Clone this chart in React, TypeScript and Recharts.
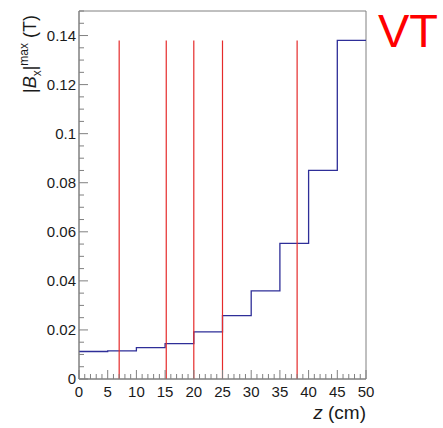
import {
	ComposedChart,
	Line,
	ReferenceArea,
	ReferenceLine,
	XAxis,
	YAxis,
} from 'recharts';

// bin lower edges (cm) and |Bx|max per bin (T)
const binLow = [0, 5, 10, 15, 20, 25, 30, 35, 40, 45];
const bMax = [0.0112, 0.0115, 0.0128, 0.0144, 0.0192, 0.0258, 0.0359, 0.0553, 0.085, 0.138];
const zEnd = 50;

// red marker positions (cm) and their height
const markers = [7, 15.2, 20, 25, 38];
const markerTop = 0.138;

// tick labels
const xMajor = [0, 5, 10, 15, 20, 25, 30, 35, 40, 45, 50];
const yMajor = [0, 0.02, 0.04, 0.06, 0.08, 0.1, 0.12, 0.14];

const xTicks = Array.from({ length: 51 }, (_, i) => i);
const yTicks = Array.from({ length: 31 }, (_, i) => Math.round(i * 5) / 1000);

const histData = [
	...binLow.map((z, i) => ({ z, b: bMax[i] })),
	{ z: zEnd, b: bMax[bMax.length - 1] },
];

const FONT = '"Liberation Sans", Arial, sans-serif';
const AXIS = '#808080';

const XTick = (props: any) => {
	const { x, y, payload } = props;
	const major = xMajor.includes(payload.value);
	return (
		<g>
			<line x1={x} x2={x} y1={y} y2={y - (major ? 9 : 5)} stroke={AXIS} />
			{major && (
				<text x={x} y={y + 18} textAnchor="middle" fontSize={15} fontFamily={FONT} fill="#1a1a1a">
					{payload.value}
				</text>
			)}
		</g>
	);
};

const YTick = (props: any) => {
	const { x, y, payload } = props;
	const major = yMajor.some((v) => Math.abs(v - payload.value) < 1e-6);
	return (
		<g>
			<line x1={x} x2={x + (major ? 9 : 5)} y1={y} y2={y} stroke={AXIS} />
			{major && (
				<text x={x - 3} y={y + 5} textAnchor="end" fontSize={15} fontFamily={FONT} fill="#1a1a1a">
					{String(parseFloat(payload.value.toFixed(2)))}
				</text>
			)}
		</g>
	);
};

export default function App() {
	return (
		<div style={{ position: 'absolute', left: 0, top: 0, width: 443, height: 428, background: '#fff' }}>
			<ComposedChart
				width={443}
				height={428}
				data={histData}
				margin={{ top: 11, right: 77, left: 0, bottom: 0 }}
			>
				<XAxis
					dataKey="z"
					type="number"
					domain={[0, 50]}
					ticks={xTicks}
					interval={0}
					tickSize={0}
					tickMargin={0}
					tick={<XTick />}
					axisLine={{ stroke: AXIS }}
					height={49}
					allowDataOverflow
				/>
				<YAxis
					type="number"
					domain={[0, 0.15]}
					ticks={yTicks}
					interval={0}
					tickSize={0}
					tickMargin={0}
					tick={<YTick />}
					axisLine={{ stroke: AXIS }}
					width={79}
					allowDataOverflow
				/>
				<ReferenceArea x1={0} x2={50} y1={0} y2={0.15} fill="none" stroke={AXIS} fillOpacity={0} />
				<Line
					type="stepAfter"
					dataKey="b"
					stroke="#2e2e98"
					strokeWidth={1.3}
					dot={false}
					isAnimationActive={false}
				/>
				{markers.map((z) => (
					<ReferenceLine
						key={z}
						segment={[
							{ x: z, y: 0 },
							{ x: z, y: markerTop },
						]}
						stroke="#e52b2b"
						strokeWidth={1.2}
					/>
				))}
			</ComposedChart>
			<svg
				width={443}
				height={428}
				style={{ position: 'absolute', left: 0, top: 0, pointerEvents: 'none' }}
				fontFamily={FONT}
			>
				<text transform="translate(36,15) rotate(-90)" textAnchor="end" fontSize={18} fill="#1a1a1a">
					|<tspan fontStyle="italic">B</tspan>
					<tspan dy={5} fontSize={12}>x</tspan>
					<tspan dy={-5}>|</tspan>
					<tspan dy={-8} fontSize={12}>max</tspan>
					<tspan dy={8}> (T)</tspan>
				</text>
				<text x={366} y={419} textAnchor="end" fontSize={19} fill="#1a1a1a">
					<tspan fontStyle="italic">z</tspan> (cm)
				</text>
				<text x={378} y={47} fontSize={47} fill="#ff0000">
					VT
				</text>
			</svg>
		</div>
	);
}
